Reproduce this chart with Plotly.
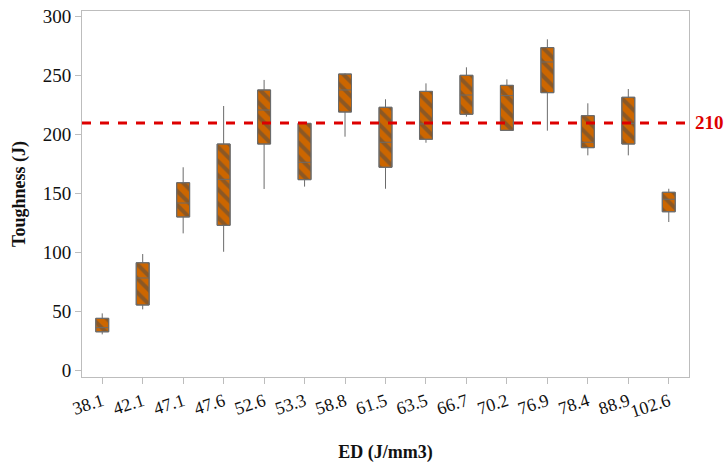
import plotly.graph_objects as go

categories = ["38.1", "42.1", "47.1", "47.6", "52.6", "53.3", "58.8", "61.5",
              "63.5", "66.7", "70.2", "76.9", "78.4", "88.9", "102.6"]
lower_whisker = [30.8, 52.0, 116.4, 100.8, 154.0, 156.0, 198.3, 154.2,
                 193.2, 215.3, 203.7, 203.4, 182.5, 182.5, 126.0]
q1 = [33.0, 55.7, 130.3, 123.2, 192.1, 161.9, 219.2, 172.4,
      196.1, 217.3, 203.7, 235.6, 189.0, 192.1, 134.7]
median = [36.5, 78.6, 142.1, 162.2, 220.9, 176.6, 237.9, 193.6,
          209.1, 233.6, 233.1, 261.6, 193.6, 209.6, 145.3]
q3 = [44.4, 91.5, 159.3, 192.1, 237.9, 209.6, 251.4, 223.2,
      236.7, 250.3, 241.8, 273.8, 216.1, 231.7, 151.2]
upper_whisker = [48.6, 98.9, 172.4, 224.3, 246.4, 210.0, 252.0, 230.0,
                 243.5, 257.1, 246.9, 280.8, 226.6, 238.7, 154.2]
threshold = 210

serif = "Liberation Serif"
gray = "#6b6b6b"
orange = "#cc6600"

fig = go.Figure()

fig.add_trace(go.Bar(
    x=categories,
    y=[b - a for a, b in zip(q1, q3)],
    base=q1,
    width=0.32,
    marker=dict(color=orange,
                line=dict(color=gray, width=1),
                pattern=dict(shape="\\", fgcolor="#4a4a4a", bgcolor=orange,
                             fillmode="overlay",
                             size=10, solidity=0.4)),
    showlegend=False, hoverinfo="skip",
))

fig.add_trace(go.Box(
    x=categories,
    q1=q1, median=median, q3=q3,
    lowerfence=lower_whisker, upperfence=upper_whisker,
    width=0.32, whiskerwidth=0,
    fillcolor="rgba(0,0,0,0)",
    line=dict(color=gray, width=1),
    showlegend=False,
))

fig.add_shape(type="line", xref="paper", x0=0, x1=1, yref="y",
              y0=threshold, y1=threshold,
              line=dict(color="#dd0000", width=3, dash="dash"))
fig.add_annotation(xref="paper", x=1.0, yref="y", y=threshold,
                   text="<b>210</b>", showarrow=False, xanchor="left", xshift=4,
                   font=dict(family=serif, size=19, color="#dd0000"))

fig.update_layout(
    width=727, height=463,
    margin=dict(l=82, r=38, t=11, b=86),
    plot_bgcolor="white", paper_bgcolor="white",
    font=dict(family=serif, size=18, color="#111"),
    barmode="overlay", boxmode="overlay",
)
fig.update_xaxes(
    type="category", range=[-0.5, 14.5], automargin=False,
    showline=True, mirror=True, linecolor="#bdbdbd", linewidth=1,
    ticks="outside", ticklen=6, tickcolor="#bdbdbd",
    tickangle=-18, tickfont=dict(family=serif, size=18),
    showgrid=False,
    title=dict(text="<b>ED (J/mm3)</b>", font=dict(family=serif, size=18), standoff=26),
)
fig.update_yaxes(
    range=[-5.3, 304.8], tickvals=[0, 50, 100, 150, 200, 250, 300], automargin=False,
    showline=True, mirror=True, linecolor="#bdbdbd", linewidth=1,
    ticks="outside", ticklen=6, tickcolor="#bdbdbd",
    tickfont=dict(family=serif, size=19),
    showgrid=False, zeroline=False,
    title=dict(text="<b>Toughness (J)</b>", font=dict(family=serif, size=18), standoff=12),
)

fig.write_html("out.html")
